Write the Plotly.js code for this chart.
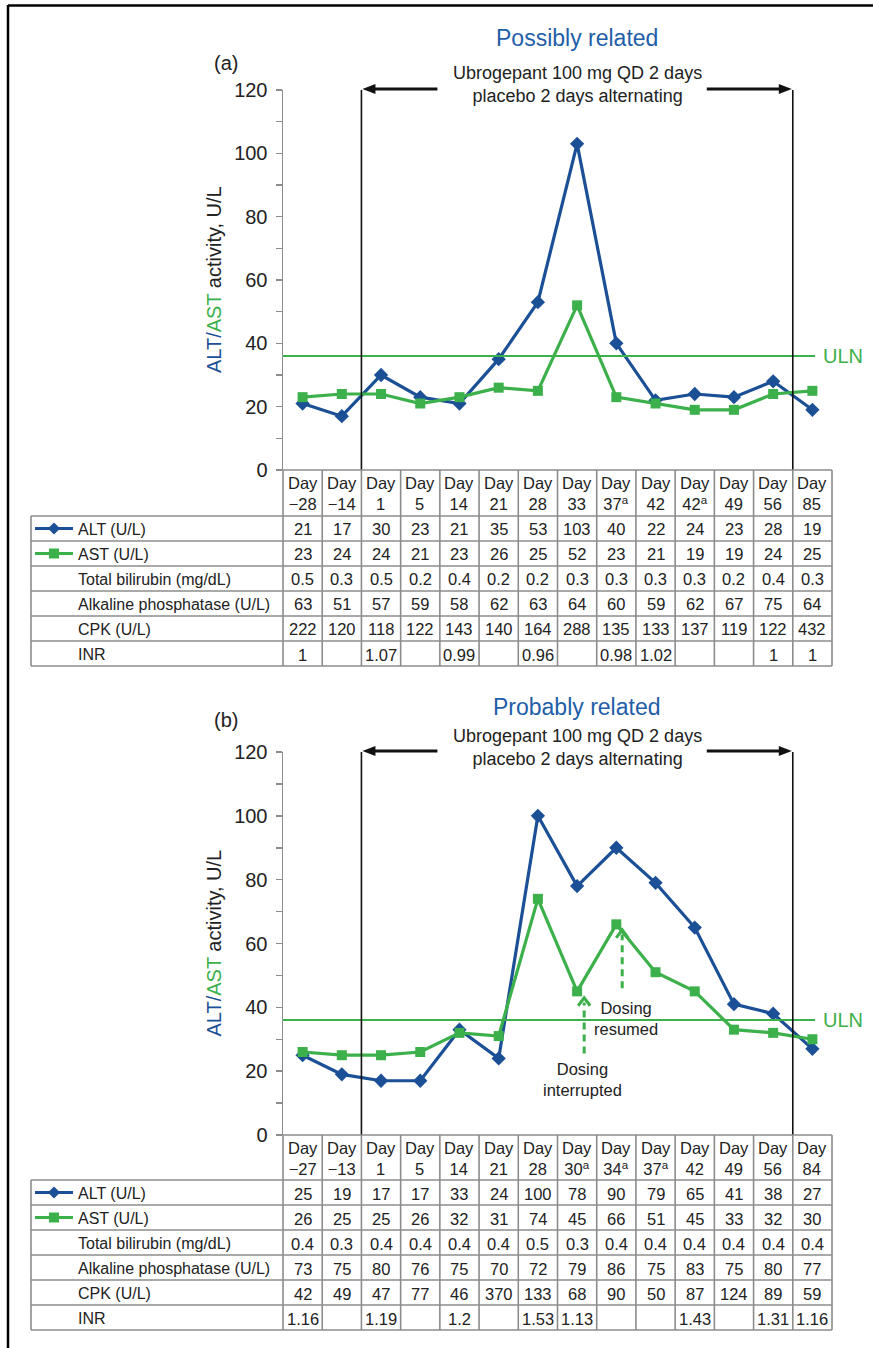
<!DOCTYPE html>
<html><head><meta charset="utf-8">
<script src="https://cdn.plot.ly/plotly-3.0.1.min.js"></script>
<style>html,body{margin:0;padding:0;background:#fff}</style>
</head><body><div id="chart" style="width:873px;height:1348px"></div>
<script>
// ---------- DATA ----------
const rowLabels = ['ALT (U/L)', 'AST (U/L)', 'Total bilirubin (mg/dL)', 'Alkaline phosphatase (U/L)', 'CPK (U/L)', 'INR'];

const daysA = ['Day<br>\u221228', 'Day<br>\u221214', 'Day<br>1', 'Day<br>5', 'Day<br>14', 'Day<br>21', 'Day<br>28', 'Day<br>33', 'Day<br>37<sup>a</sup>', 'Day<br>42', 'Day<br>42<sup>a</sup>', 'Day<br>49', 'Day<br>56', 'Day<br>85'];
const altA = [21, 17, 30, 23, 21, 35, 53, 103, 40, 22, 24, 23, 28, 19];
const astA = [23, 24, 24, 21, 23, 26, 25, 52, 23, 21, 19, 19, 24, 25];
const tbilA = [0.5, 0.3, 0.5, 0.2, 0.4, 0.2, 0.2, 0.3, 0.3, 0.3, 0.3, 0.2, 0.4, 0.3];
const alpA = [63, 51, 57, 59, 58, 62, 63, 64, 60, 59, 62, 67, 75, 64];
const cpkA = [222, 120, 118, 122, 143, 140, 164, 288, 135, 133, 137, 119, 122, 432];
const inrA = [1, null, 1.07, null, 0.99, null, 0.96, null, 0.98, 1.02, null, null, 1, 1];

const daysB = ['Day<br>\u221227', 'Day<br>\u221213', 'Day<br>1', 'Day<br>5', 'Day<br>14', 'Day<br>21', 'Day<br>28', 'Day<br>30<sup>a</sup>', 'Day<br>34<sup>a</sup>', 'Day<br>37<sup>a</sup>', 'Day<br>42', 'Day<br>49', 'Day<br>56', 'Day<br>84'];
const altB = [25, 19, 17, 17, 33, 24, 100, 78, 90, 79, 65, 41, 38, 27];
const astB = [26, 25, 25, 26, 32, 31, 74, 45, 66, 51, 45, 33, 32, 30];
const tbilB = [0.4, 0.3, 0.4, 0.4, 0.4, 0.4, 0.5, 0.3, 0.4, 0.4, 0.4, 0.4, 0.4, 0.4];
const alpB = [73, 75, 80, 76, 75, 70, 72, 79, 86, 75, 83, 75, 80, 77];
const cpkB = [42, 49, 47, 77, 46, 370, 133, 68, 90, 50, 87, 124, 89, 59];
const inrB = [1.16, null, 1.19, null, 1.2, null, 1.53, 1.13, null, null, 1.43, null, 1.31, 1.16];

const ULN = 36;
const titleA = 'Possibly related';
const titleB = 'Probably related';
const treatText = 'Ubrogepant 100 mg QD 2 days<br>placebo 2 days alternating';
const treatStart = 1.5, treatEnd = 12.5; // category boundaries of the treatment period

// ---------- STYLE ----------
const W = 873, H = 1348;
const FONT = 'Liberation Sans, Arial, Helvetica, sans-serif';
const BLUE = '#1b4f96', GREEN = '#3cb04a', TBLUE = '#1f5ea8', TXT = '#222', GRID = '#8c8c8c';
const px = x => x / W, py = y => 1 - y / H;
const XL = 283, XR = 832, TL = 31;
const xd = [px(XL), px(XR)];
const nCol = 14;
const colPix = v => XL + (XR - XL) * (v + 0.5) / nCol;   // category coordinate -> pixel
const colEdge = i => px(XL + (XR - XL) * i / nCol);

const panels = [
  {days: daysA, rows: [altA, astA, tbilA, alpA, cpkA, inrA], top: 90, bot: 470,
   tRows: [470, 516, 541, 566, 591, 616, 641, 666], title: titleA, tag: '(a)', titleY: 38, tagY: 63, txtY: 84, xa: 'x', ya: 'y'},
  {days: daysB, rows: [altB, astB, tbilB, alpB, cpkB, inrB], top: 752, bot: 1135,
   tRows: [1135, 1180, 1205, 1230, 1255, 1280, 1305, 1330], title: titleB, tag: '(b)', titleY: 707, tagY: 720, txtY: 748, xa: 'x2', ya: 'y2'}
];

const traces = [], shapes = [], annotations = [];
const layout = {
  width: W, height: H, margin: {l: 0, r: 0, t: 0, b: 0},
  paper_bgcolor: '#fff', plot_bgcolor: 'rgba(0,0,0,0)', showlegend: false,
  font: {family: FONT, color: TXT, size: 16}
};

function pline(x0, y0, x1, y1, line) {
  shapes.push({type: 'line', xref: 'paper', yref: 'paper', x0: px(x0), x1: px(x1), y0: py(y0), y1: py(y1), line: line});
}
function arrowHead(xTip, yTip, dir) { // horizontal filled arrow head, dir = -1 (points left) or +1 (points right)
  const L = 13, hw = 5;
  shapes.push({type: 'path', xref: 'paper', yref: 'paper', fillcolor: '#111', line: {width: 0},
    path: `M${px(xTip)},${py(yTip)} L${px(xTip - dir * L)},${py(yTip - hw)} L${px(xTip - dir * L)},${py(yTip + hw)} Z`});
}

panels.forEach((p, k) => {
  const xName = k === 0 ? 'xaxis' : 'xaxis2', yName = k === 0 ? 'yaxis' : 'yaxis2';
  const yPix = v => p.bot - (p.bot - p.top) * v / 120;
  layout[xName] = {domain: xd, anchor: p.ya, type: 'category', range: [-0.5, 13.5], showticklabels: false,
    ticks: '', showline: false, showgrid: false, zeroline: false, fixedrange: true};
  layout[yName] = {domain: [py(p.bot), py(p.top)], anchor: p.xa, range: [0, 120], dtick: 20, tick0: 0,
    ticks: 'outside', ticklen: 6, tickcolor: GRID, tickwidth: 1.5, showline: true, linecolor: GRID, linewidth: 1.5,
    showgrid: false, zeroline: false, tickfont: {size: 20, color: TXT}, fixedrange: true, ticklabelstandoff: 4,
    minor: {dtick: 10, ticks: 'outside', ticklen: 6, tickcolor: GRID, tickwidth: 1.5}};

  traces.push({x: p.days, y: p.rows[0], xaxis: p.xa, yaxis: p.ya, type: 'scatter', mode: 'lines+markers',
    line: {color: BLUE, width: 3.2}, marker: {symbol: 'diamond', size: 11, color: BLUE}, cliponaxis: false, name: 'ALT'});
  traces.push({x: p.days, y: p.rows[1], xaxis: p.xa, yaxis: p.ya, type: 'scatter', mode: 'lines+markers',
    line: {color: GREEN, width: 3.2}, marker: {symbol: 'square', size: 10, color: GREEN}, cliponaxis: false, name: 'AST'});

  // ULN line + label
  shapes.push({type: 'line', xref: 'paper', yref: p.ya, x0: px(XL), x1: px(815), y0: ULN, y1: ULN,
    line: {color: GREEN, width: 2}});
  annotations.push({xref: 'paper', yref: p.ya, x: px(821), y: ULN, xanchor: 'left', yanchor: 'middle',
    text: 'ULN', showarrow: false, font: {size: 20, color: GREEN}});

  // treatment period lines and arrows
  [treatStart, treatEnd].forEach(v => shapes.push({type: 'line', xref: p.xa, yref: p.ya, x0: v, x1: v, y0: 0, y1: 120,
    line: {color: '#111', width: 1.6}}));
  const ya = yPix(120) - 1;
  const xs = colPix(treatStart), xe = colPix(treatEnd);
  pline(xs + 10, ya, xs + 76, ya, {color: '#111', width: 3});
  arrowHead(xs + 1, ya, -1);
  pline(xe - 86, ya, xe - 10, ya, {color: '#111', width: 3});
  arrowHead(xe - 1, ya, 1);
  annotations.push({xref: p.xa, yref: 'paper', x: 7, y: py(p.txtY), text: treatText, showarrow: false,
    font: {size: 18, color: TXT}, yanchor: 'middle'});

  // titles
  annotations.push({xref: p.xa, yref: 'paper', x: 7, y: py(p.titleY), text: p.title, showarrow: false,
    font: {size: 23, color: TBLUE}, yanchor: 'middle'});
  annotations.push({xref: 'paper', yref: 'paper', x: px(212), y: py(p.tagY), text: p.tag, showarrow: false,
    font: {size: 20, color: TXT}, yanchor: 'middle'});

  // y axis title
  annotations.push({xref: 'paper', yref: 'paper', x: px(214), y: py((p.top + p.bot) / 2), textangle: -90,
    text: '<span style="color:' + BLUE + '">ALT/</span><span style="color:' + GREEN + '">AST</span> activity, U/L',
    showarrow: false, font: {size: 20, color: TXT}, xanchor: 'center', yanchor: 'middle'});

  // ---- table ----
  const r = p.tRows;
  const gl = {color: GRID, width: 1.6};
  pline(XL, r[0], XR, r[0], gl);
  for (let j = 1; j < r.length; j++) pline(TL, r[j], XR, r[j], gl);
  for (let i = 0; i <= nCol; i++)
    shapes.push({type: 'line', xref: 'paper', yref: 'paper', x0: colEdge(i), x1: colEdge(i), y0: py(r[0]), y1: py(r[r.length - 1]), line: gl});
  pline(TL, r[1], TL, r[r.length - 1], gl);

  // header
  p.days.forEach(d => annotations.push({xref: p.xa, yref: 'paper', x: d, y: py((r[0] + r[1]) / 2 + 1), text: d,
    showarrow: false, font: {size: 16.5, color: TXT}, yanchor: 'middle'}));
  // rows
  p.rows.forEach((vals, j) => {
    const yc = py((r[j + 1] + r[j + 2]) / 2 + 1);
    annotations.push({xref: 'paper', yref: 'paper', x: px(76), y: yc, xanchor: 'left', yanchor: 'middle',
      text: rowLabels[j], showarrow: false, font: {size: 16, color: TXT}});
    vals.forEach((v, i) => {
      if (v === null) return;
      annotations.push({xref: p.xa, yref: 'paper', x: p.days[i], y: yc, text: String(v), showarrow: false,
        font: {size: 16.5, color: TXT}, yanchor: 'middle'});
    });
  });
  // legend glyphs in table
  const yALT = (r[1] + r[2]) / 2, yAST = (r[2] + r[3]) / 2;
  pline(35, yALT, 73, yALT, {color: BLUE, width: 3});
  shapes.push({type: 'path', xref: 'paper', yref: 'paper', fillcolor: BLUE, line: {width: 0},
    path: `M${px(54)},${py(yALT - 6)} L${px(60)},${py(yALT)} L${px(54)},${py(yALT + 6)} L${px(48)},${py(yALT)} Z`});
  pline(35, yAST, 73, yAST, {color: GREEN, width: 3});
  shapes.push({type: 'rect', xref: 'paper', yref: 'paper', fillcolor: GREEN, line: {width: 0},
    x0: px(49), x1: px(59), y0: py(yAST - 5), y1: py(yAST + 5)});

  p.yPix = yPix;
});

// ---- dosing annotations (panel b) ----
function dashArrow(xv, yTail, yHead) {
  const yp = panels[1].yPix;
  const xPix = colPix(xv), yH = yp(yHead);
  shapes.push({type: 'line', xref: 'x2', yref: 'y2', x0: xv, x1: xv, y0: yTail, y1: yHead - 1.5,
    line: {color: GREEN, width: 3, dash: '7px,5px'}});
  shapes.push({type: 'path', xref: 'paper', yref: 'paper', line: {color: GREEN, width: 3},
    path: `M${px(xPix - 6)},${py(yH + 8)} L${px(xPix)},${py(yH)} L${px(xPix + 6)},${py(yH + 8)}`});
}
dashArrow(7.18, 25.5, 43);
dashArrow(8.15, 46, 64.3);
annotations.push({xref: 'x2', yref: 'y2', x: 7.15, y: 17.5, text: 'Dosing<br>interrupted', showarrow: false,
  font: {size: 16.5, color: TXT}, yanchor: 'middle'});
annotations.push({xref: 'x2', yref: 'y2', x: 8.25, y: 36.5, text: 'Dosing<br>resumed', showarrow: false,
  font: {size: 16.5, color: TXT}, yanchor: 'middle'});

// outer frame
pline(8, 5.5, W, 5.5, {color: '#000', width: 2.5});
pline(8, 5, 8, H, {color: '#000', width: 2.5});

layout.shapes = shapes;
layout.annotations = annotations;
Plotly.newPlot('chart', traces, layout, {displayModeBar: false, staticPlot: true});
</script></body></html>
